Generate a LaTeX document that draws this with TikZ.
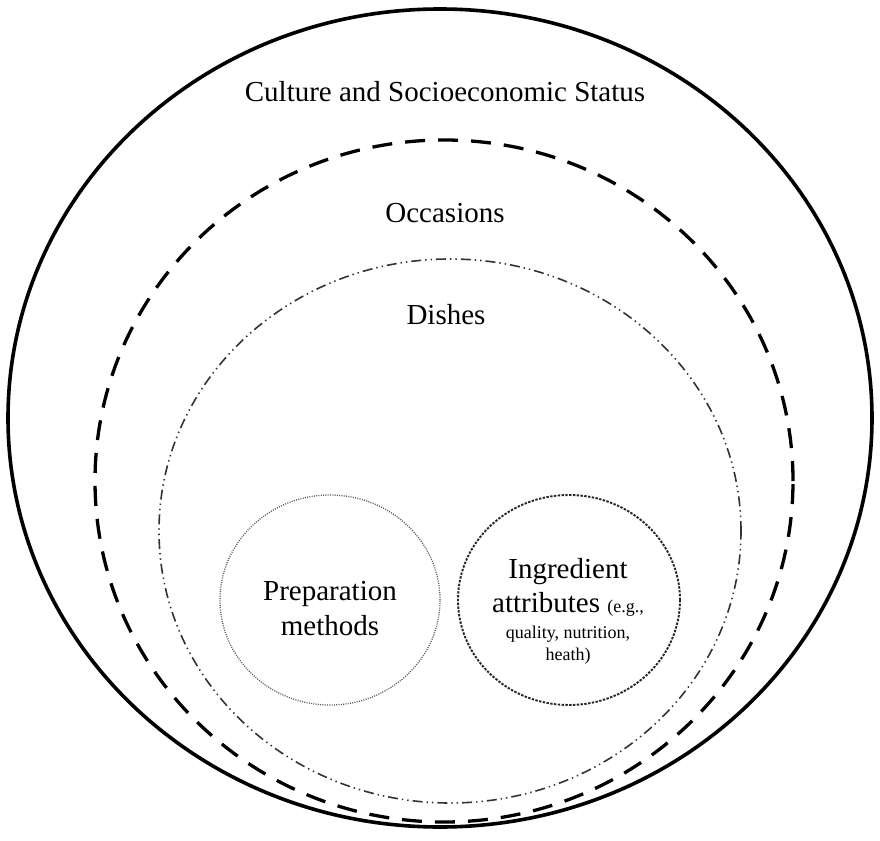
\documentclass[tikz,border=0pt]{standalone}
\usepackage{fontspec}
\setmainfont{Liberation Serif}
\begin{document}
\begin{tikzpicture}[x=1pt,y=-1pt,
  ring/.style={line width=3.6pt,black},
  occasionring/.style={line width=3.3pt,black,dash pattern=on 20pt off 13pt},
  dishring/.style={line width=1.6pt,black!80,dash pattern=on 10pt off 4pt on 1.4pt off 4pt on 1.4pt off 4pt},
  prepring/.style={line width=1.3pt,black!65,dash pattern=on 1pt off 1.3pt},
  ingrring/.style={line width=1.9pt,black!85,dash pattern=on 2.4pt off 1.4pt},
  label/.style={font=\fontsize{29}{35}\selectfont,inner sep=0pt}]
\useasboundingbox (0,0) rectangle (880,840);
\fill[white] (0,0) rectangle (880,840);

% nested levels
\draw[ring] (440,418) ellipse [x radius=432pt, y radius=409pt];
\draw[occasionring] (444,481) ellipse [x radius=349pt, y radius=341pt];
\draw[dishring] (450,531) ellipse [x radius=291pt, y radius=272pt];
\draw[prepring] (330,600) ellipse [x radius=110pt, y radius=105pt];
\draw[ingrring] (569,600) ellipse [x radius=111pt, y radius=105pt];

% level labels
\node[label,anchor=base] (culture) at (445,102) {Culture and Socioeconomic Status};
\node[label,anchor=base] (occasions) at (445,222) {Occasions};
\node[label,anchor=base] (dishes) at (446,324) {Dishes};

\node[label,align=center] (prep) at (330,608.6) {Preparation\\methods};
\node[label,align=center,font=\fontsize{29}{34}\selectfont] (ingr) at (568,611.2)
  {Ingredient\\attributes {\fontsize{18}{22}\selectfont(e.g.,}\\[-8pt]
   {\fontsize{18}{22}\selectfont quality, nutrition,}\\[-12pt]
   {\fontsize{18}{22}\selectfont heath)}};
\end{tikzpicture}
\end{document}
